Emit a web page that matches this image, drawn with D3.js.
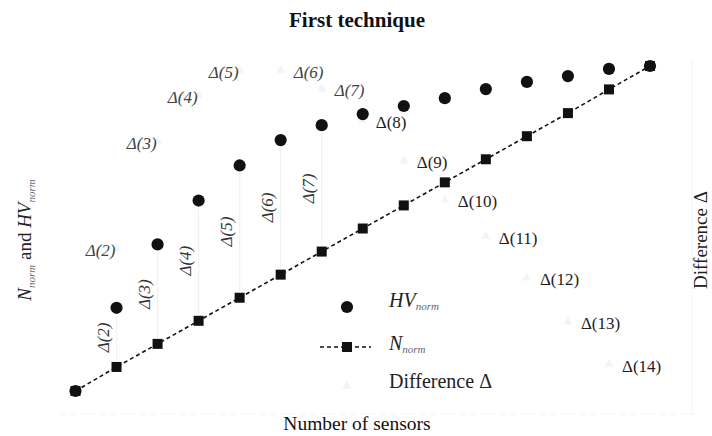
<!DOCTYPE html>
<html>
<head>
<meta charset="utf-8">
<script src="https://cdn.jsdelivr.net/npm/d3@7/dist/d3.min.js"></script>
<style>
  html, body { margin: 0; padding: 0; background: #fff; }
  svg { display: block; }
  text { font-family: "Liberation Serif", "Times New Roman", serif; }
</style>
</head>
<body>
<svg id="chart" width="712" height="436"></svg>
<script>
// Number of sensors on the x axis
const sensors = [1, 2, 3, 4, 5, 6, 7, 8, 9, 10, 11, 12, 13, 14, 15];
// Normalised hypervolume (filled circles)
const hvNorm = [0, 0.256, 0.451, 0.586, 0.694, 0.772, 0.818, 0.852, 0.877, 0.901, 0.929, 0.951, 0.969, 0.991, 1.0];
// Normalised number of sensors (squares, dashed line)
const nNorm = [0, 0.074, 0.145, 0.216, 0.287, 0.358, 0.429, 0.5, 0.571, 0.642, 0.713, 0.784, 0.855, 0.928, 1.0];
// Difference Δ, plotted against the right-hand axis
const diffSensors = [2, 3, 4, 5, 6, 7, 8, 9, 10, 11, 12, 13, 14];
const diffValues = [0.200, 0.326, 0.380, 0.410, 0.410, 0.388, 0.351, 0.303, 0.257, 0.214, 0.165, 0.113, 0.063];
// Sensors whose Δ is also written inside the gap between the two series
const gapLabelSensors = [2, 3, 4, 5, 6, 7];

const svg = d3.select("#chart");

const x = d3.scaleLinear().domain([1, 15]).range([75.5, 650]);
const y = d3.scaleLinear().domain([0, 1]).range([391, 66]);
const y2 = d3.scaleLinear().domain([0, 0.4]).range([417.5, 78.7]);

const points = sensors.map((s, i) => ({ s, hv: hvNorm[i], n: nNorm[i] }));
const diffs = diffSensors.map((s, i) => ({ s, d: diffValues[i] }));

// faint frame of the secondary axis
svg.append("line")
  .attr("x1", 60).attr("x2", 700).attr("y1", 414).attr("y2", 414)
  .attr("stroke", "#f3f4f5").attr("stroke-width", 1).attr("stroke-dasharray", "6,4");
svg.append("line")
  .attr("x1", 692).attr("x2", 692).attr("y1", 60).attr("y2", 414)
  .attr("stroke", "#f3f4f5").attr("stroke-width", 1);

// faint Δ bars between the two series
svg.append("g").selectAll("line")
  .data(points.filter(p => gapLabelSensors.includes(p.s)))
  .join("line")
  .attr("x1", d => x(d.s)).attr("x2", d => x(d.s))
  .attr("y1", d => y(d.hv) + 8).attr("y2", d => y(d.n) - 6)
  .attr("stroke", "#edf2f4").attr("stroke-width", 1.2);

// faint Δ markers (right axis)
const tri = d3.symbol().type(d3.symbolTriangle).size(36);
svg.append("g").selectAll("path")
  .data(diffs)
  .join("path")
  .attr("d", tri)
  .attr("transform", d => `translate(${x(d.s)},${y2(d.d)})`)
  .attr("fill", "#f0f5f7");

// dashed N_norm line
const line = d3.line().x(d => x(d.s)).y(d => y(d.n));
svg.append("path")
  .datum(points)
  .attr("d", line)
  .attr("fill", "none")
  .attr("stroke", "#111")
  .attr("stroke-width", 1.6)
  .attr("stroke-dasharray", "4,3");

// N_norm squares
svg.append("g").selectAll("rect")
  .data(points)
  .join("rect")
  .attr("x", d => x(d.s) - 5).attr("y", d => y(d.n) - 5)
  .attr("width", 10).attr("height", 10)
  .attr("fill", "#111");

// HV_norm circles
svg.append("g").selectAll("circle")
  .data(points)
  .join("circle")
  .attr("cx", d => x(d.s)).attr("cy", d => y(d.hv))
  .attr("r", 6.1)
  .attr("fill", "#111");

// Δ labels next to the right-axis markers
svg.append("g").selectAll("text")
  .data(diffs)
  .join("text")
  .attr("x", d => d.s <= 5 ? x(d.s) - 1 : x(d.s) + 13)
  .attr("y", d => y2(d.d) + 2)
  .attr("text-anchor", d => d.s <= 5 ? "end" : "start")
  .attr("dominant-baseline", "central")
  .attr("font-size", 17)
  .attr("font-style", d => d.s <= 7 ? "italic" : "normal")
  .attr("fill", d => d.s <= 7 ? "#444" : "#222")
  .text(d => `Δ(${d.s})`);

// rotated Δ labels inside the gaps
svg.append("g").selectAll("text")
  .data(points.filter(p => gapLabelSensors.includes(p.s)))
  .join("text")
  .attr("transform", d => `translate(${x(d.s) - 13},${(y(d.hv) + y(d.n)) / 2}) rotate(-90)`)
  .attr("text-anchor", "middle")
  .attr("dominant-baseline", "central")
  .attr("font-size", 17)
  .attr("font-style", "italic")
  .attr("fill", "#333")
  .text(d => `Δ(${d.s})`);

// title
svg.append("text")
  .attr("x", 357).attr("y", 27)
  .attr("text-anchor", "middle")
  .attr("font-size", 21).attr("font-weight", "bold")
  .attr("fill", "#111")
  .text("First technique");

// x axis title
svg.append("text")
  .attr("x", 357).attr("y", 430)
  .attr("text-anchor", "middle")
  .attr("font-size", 19.5)
  .attr("fill", "#111")
  .text("Number of sensors");

// left axis title
const yl = svg.append("text")
  .attr("transform", "translate(31,240) rotate(-90)")
  .attr("text-anchor", "middle")
  .attr("font-size", 19)
  .attr("fill", "#222");
yl.append("tspan").attr("font-style", "italic").text("N");
yl.append("tspan").attr("font-style", "italic").attr("font-size", 11).attr("dy", 4).attr("fill", "#667").text("norm");
yl.append("tspan").attr("dy", -4).text(" and ");
yl.append("tspan").attr("font-style", "italic").text("HV");
yl.append("tspan").attr("font-style", "italic").attr("font-size", 11).attr("dy", 4).attr("fill", "#667").text("norm");

// right axis title
svg.append("text")
  .attr("transform", "translate(707,240) rotate(-90)")
  .attr("text-anchor", "middle")
  .attr("font-size", 19)
  .attr("fill", "#222")
  .text("Difference Δ");

// legend
const lg = svg.append("g");
lg.append("circle").attr("cx", 347).attr("cy", 307).attr("r", 6.1).attr("fill", "#111");
lg.append("line").attr("x1", 320).attr("x2", 371).attr("y1", 347).attr("y2", 347)
  .attr("stroke", "#111").attr("stroke-width", 1.6).attr("stroke-dasharray", "4,3");
lg.append("rect").attr("x", 342).attr("y", 342).attr("width", 10).attr("height", 10).attr("fill", "#111");
lg.append("path").attr("d", tri).attr("transform", "translate(347,386)").attr("fill", "#f0f5f7");

const t1 = lg.append("text").attr("x", 389).attr("y", 307).attr("font-size", 20).attr("fill", "#222");
t1.append("tspan").attr("font-style", "italic").text("HV");
t1.append("tspan").attr("font-style", "italic").attr("font-size", 11).attr("dy", 3).attr("fill", "#667").text("norm");
const t2 = lg.append("text").attr("x", 389).attr("y", 350).attr("font-size", 20).attr("fill", "#222");
t2.append("tspan").attr("font-style", "italic").text("N");
t2.append("tspan").attr("font-style", "italic").attr("font-size", 11).attr("dy", 3).attr("fill", "#667").text("norm");
lg.append("text").attr("x", 389).attr("y", 388).attr("font-size", 20).attr("fill", "#222").text("Difference Δ");
</script>
</body>
</html>
